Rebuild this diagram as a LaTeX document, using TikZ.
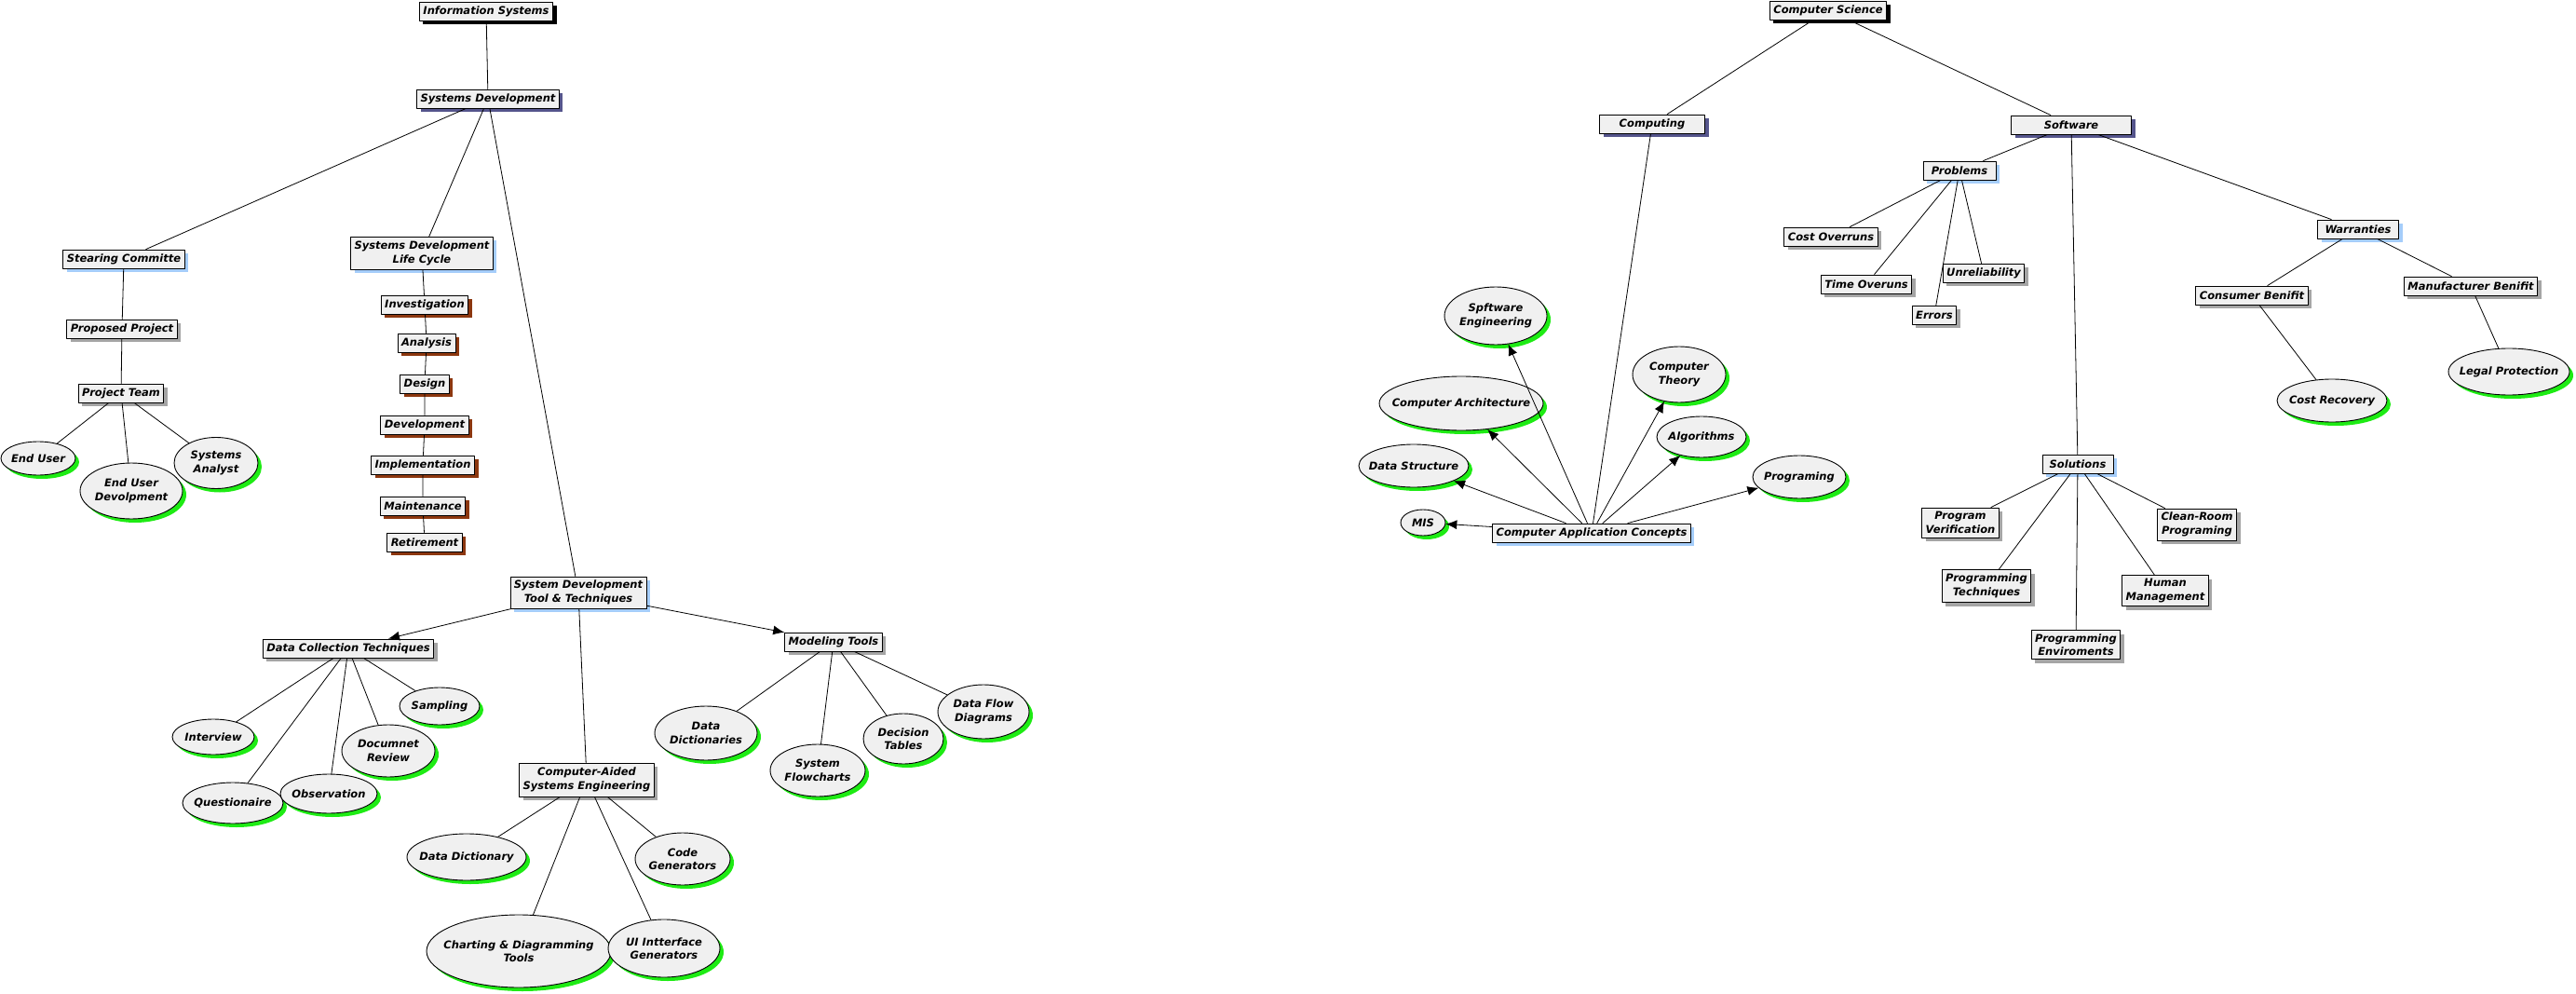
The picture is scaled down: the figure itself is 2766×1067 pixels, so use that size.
\documentclass[tikz,border=0pt]{standalone}
\usepackage{fontspec}
\setmainfont{DejaVu Sans}
\usetikzlibrary{shapes.geometric,shadows,arrows.meta}
\definecolor{boxfill}{RGB}{240,240,240}
\definecolor{shgray}{RGB}{165,165,165}
\definecolor{shblue}{RGB}{165,205,250}
\definecolor{shslate}{RGB}{85,85,140}
\definecolor{shbrown}{RGB}{140,55,15}
\definecolor{shgreen}{RGB}{30,235,20}
\tikzset{
  concept/.style={draw, fill=boxfill, line width=0.9pt, inner xsep=4pt, inner ysep=2pt,
    minimum height=20, align=center, font=\fontsize{11.5}{14.5}\selectfont\bfseries\itshape},
  shade/.style={general shadow={fill=#1, shadow xshift=4pt, shadow yshift=-4pt}},
  topbox/.style={concept, shade=black},
  mainbox/.style={concept, shade=shslate},
  groupbox/.style={concept, shade=shblue},
  stagebox/.style={concept, shade=shbrown},
  itembox/.style={concept, shade=shgray},
  leaf/.style={ellipse, draw, fill=boxfill, line width=0.9pt, inner xsep=-25pt, inner ysep=0pt,
    align=center, shade=shgreen, font=\fontsize{11.5}{14.5}\selectfont\bfseries\itshape},
  link/.style={line width=0.8pt},
  arrow/.style={line width=0.8pt, -{Latex[length=12pt,width=10pt]}}
}
\begin{document}
\begin{tikzpicture}[x=1pt,y=-1pt,line cap=round,line join=round]
  \useasboundingbox (0,0) rectangle (2766,1067);
  % information systems
  \node[topbox] (is) at (522,12) {Information Systems};
  \node[mainbox] (sd) at (524,106) {Systems Development};
  \node[groupbox] (sc) at (133,278) {Stearing Committe};
  \node[itembox] (pp) at (131,353) {Proposed Project};
  \node[itembox] (pt) at (130,422) {Project Team};
  \node[leaf, minimum width=80, minimum height=36] (eu) at (41,492) {End User};
  \node[leaf, minimum width=110, minimum height=60] (eud) at (141,527) {End User\\Devolpment};
  \node[leaf, minimum width=90, minimum height=55] (sa) at (232,497) {Systems\\Analyst};
  \node[groupbox, minimum height=35] (sdlc) at (453,272) {Systems Development\\Life Cycle};
  \node[stagebox] (inv) at (456,327) {Investigation};
  \node[stagebox] (ana) at (458,368) {Analysis};
  \node[stagebox] (des) at (456,412) {Design};
  \node[stagebox] (dev) at (456,456) {Development};
  \node[stagebox] (imp) at (454,499) {Implementation};
  \node[stagebox] (mai) at (454,543) {Maintenance};
  \node[stagebox] (ret) at (456,582) {Retirement};
  \node[groupbox, minimum height=34] (sdtt) at (621,636) {System Development\\Tool \& Techniques};
  \node[itembox] (dct) at (374,696) {Data Collection Techniques};
  \node[leaf, minimum width=88, minimum height=38] (int) at (229,791) {Interview};
  \node[leaf, minimum width=108, minimum height=44] (que) at (250,862) {Questionaire};
  \node[leaf, minimum width=104, minimum height=42] (obs) at (353,852) {Observation};
  \node[leaf, minimum width=100, minimum height=56] (doc) at (417,806) {Documnet\\Review};
  \node[leaf, minimum width=86, minimum height=40] (sam) at (472,758) {Sampling};
  \node[itembox] (mt) at (895,689) {Modeling Tools};
  \node[leaf, minimum width=110, minimum height=58] (ddi) at (758,787) {Data\\Dictionaries};
  \node[leaf, minimum width=102, minimum height=56] (sfl) at (878,827) {System\\Flowcharts};
  \node[leaf, minimum width=86, minimum height=54] (dta) at (970,793) {Decision\\Tables};
  \node[leaf, minimum width=98, minimum height=58] (dfd) at (1056,764) {Data Flow\\Diagrams};
  \node[itembox, minimum height=36] (case) at (630,837) {Computer-Aided\\Systems Engineering};
  \node[leaf, minimum width=128, minimum height=50] (ddy) at (501,920) {Data Dictionary};
  \node[leaf, minimum width=102, minimum height=56] (cod) at (733,922) {Code\\Generators};
  \node[leaf, minimum width=198, minimum height=78] (cha) at (557,1021) {Charting \& Diagramming\\Tools};
  \node[leaf, minimum width=120, minimum height=62] (uig) at (713,1018) {UI Intterface\\Generators};
  \draw[link] (is) -- (sd);
  \draw[link] (sd) -- (sc);
  \draw[link] (sd) -- (sdlc);
  \draw[link] (sd) -- (sdtt);
  \draw[link] (sc) -- (pp) -- (pt);
  \draw[link] (pt) -- (eu);
  \draw[link] (pt) -- (eud);
  \draw[link] (pt) -- (sa);
  \draw[link] (sdlc) -- (inv) -- (ana) -- (des) -- (dev) -- (imp) -- (mai) -- (ret);
  \draw[arrow] (sdtt) -- (dct);
  \draw[arrow] (sdtt) -- (mt);
  \draw[link] (sdtt) -- (case);
  \draw[link] (dct) -- (int);
  \draw[link] (dct) -- (que);
  \draw[link] (dct) -- (obs);
  \draw[link] (dct) -- (doc);
  \draw[link] (dct) -- (sam);
  \draw[link] (mt) -- (ddi);
  \draw[link] (mt) -- (sfl);
  \draw[link] (mt) -- (dta);
  \draw[link] (mt) -- (dfd);
  \draw[link] (case) -- (ddy);
  \draw[link] (case) -- (cha);
  \draw[link] (case) -- (uig);
  \draw[link] (case) -- (cod);
  % computer science
  \node[topbox] (cs) at (1963,11) {Computer Science};
  \node[mainbox, minimum width=113] (cmp) at (1774,133) {Computing};
  \node[mainbox, minimum width=129] (sw) at (2224,134) {Software};
  \node[groupbox] (cac) at (1709,572) {Computer Application Concepts};
  \node[leaf, minimum width=110, minimum height=62] (swe) at (1606,339) {Spftware\\Engineering};
  \node[leaf, minimum width=176, minimum height=58] (car) at (1569,433) {Computer Architecture};
  \node[leaf, minimum width=118, minimum height=46] (dst) at (1518,500) {Data Structure};
  \node[leaf, minimum width=48, minimum height=28] (mis) at (1528,561) {MIS};
  \node[leaf, minimum width=100, minimum height=60] (cth) at (1803,402) {Computer\\Theory};
  \node[leaf, minimum width=96, minimum height=44] (alg) at (1827,469) {Algorithms};
  \node[leaf, minimum width=100, minimum height=46] (prg) at (1932,512) {Programing};
  \node[groupbox, minimum width=78] (pro) at (2104,183) {Problems};
  \node[itembox] (cov) at (1966,254) {Cost Overruns};
  \node[itembox] (tov) at (2004,305) {Time Overuns};
  \node[itembox] (unr) at (2130,293) {Unreliability};
  \node[itembox] (err) at (2077,338) {Errors};
  \node[groupbox, minimum width=87] (war) at (2532,246) {Warranties};
  \node[itembox] (cbe) at (2418,317) {Consumer Benifit};
  \node[itembox] (mbe) at (2653,307) {Manufacturer Benifit};
  \node[leaf, minimum width=118, minimum height=46] (cre) at (2504,430) {Cost Recovery};
  \node[leaf, minimum width=130, minimum height=50] (lpr) at (2694,399) {Legal Protection};
  \node[groupbox, minimum width=76] (sol) at (2231,498) {Solutions};
  \node[itembox, minimum height=32] (pve) at (2105,561) {Program\\Verification};
  \node[itembox, minimum height=35] (pte) at (2133,629) {Programming\\Techniques};
  \node[itembox, minimum height=31] (pen) at (2229,692) {Programming\\Enviroments};
  \node[itembox, minimum height=33] (hum) at (2325,634) {Human\\Management};
  \node[itembox, minimum height=34] (clr) at (2359,563) {Clean-Room\\Programing};
  \draw[link] (cs) -- (cmp);
  \draw[link] (cs) -- (sw);
  \draw[link] (cmp) -- (cac);
  \draw[arrow] (cac) -- (swe);
  \draw[arrow] (cac) -- (car);
  \draw[arrow] (cac) -- (dst);
  \draw[arrow] (cac) -- (mis);
  \draw[arrow] (cac) -- (cth);
  \draw[arrow] (cac) -- (alg);
  \draw[arrow] (cac) -- (prg);
  \draw[link] (sw) -- (pro);
  \draw[link] (sw) -- (sol);
  \draw[link] (sw) -- (war);
  \draw[link] (pro) -- (cov);
  \draw[link] (pro) -- (tov);
  \draw[link] (pro) -- (err);
  \draw[link] (pro) -- (unr);
  \draw[link] (war) -- (cbe);
  \draw[link] (war) -- (mbe);
  \draw[link] (cbe) -- (cre);
  \draw[link] (mbe) -- (lpr);
  \draw[link] (sol) -- (pve);
  \draw[link] (sol) -- (pte);
  \draw[link] (sol) -- (pen);
  \draw[link] (sol) -- (hum);
  \draw[link] (sol) -- (clr);
\end{tikzpicture}
\end{document}
